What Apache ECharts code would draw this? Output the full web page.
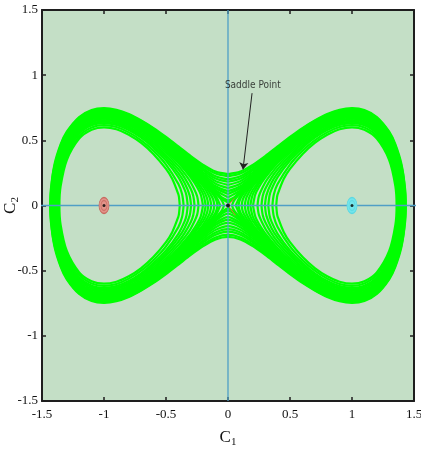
<!DOCTYPE html>
<html>
<head>
<meta charset="utf-8">
<script src="https://cdn.jsdelivr.net/npm/echarts@6/dist/echarts.min.js"></script>
<style>html,body{margin:0;padding:0;background:#fff;}#c{width:421px;height:452px;}</style>
</head>
<body>
<div id="c"></div>
<script>
// Axis ticks
const xTicks = [-1.5, -1, -0.5, 0, 0.5, 1, 1.5];
const yTicks = [-1.5, -1, -0.5, 0, 0.5, 1, 1.5];

// Orbits enclosing both wells (first-quadrant points)
const peanutA = [[0,.241],[.1,.26],[.2,.312],[.3,.379],[.4,.453],[.5,.526],[.6,.594],[.7,.652],[.8,.702],[.9,.735],[1,.747],[1.1,.733],[1.2,.679],[1.3,.566],[1.35,.468],[1.4,.312],[1.43,.11],[1.434,0]];
const peanutB = [[0,.224],[.1,.245],[.2,.299],[.3,.369],[.4,.444],[.5,.518],[.6,.588],[.7,.648],[.8,.697],[.9,.729],[1,.742],[1.1,.727],[1.2,.673],[1.3,.559],[1.35,.46],[1.4,.299],[1.42,.183],[1.4314,0]];
const peanutC = [[0,.2],[.1,.224],[.2,.282],[.3,.355],[.4,.433],[.5,.508],[.6,.579],[.7,.64],[.8,.689],[.9,.722],[1,.735],[1.1,.72],[1.2,.665],[1.3,.55],[1.35,.449],[1.4,.282],[1.42,.153],[1.428,0]];
const peanutD = [[0,.182],[.1,.207],[.2,.269],[.3,.345],[.4,.424],[.5,.502],[.6,.573],[.7,.635],[.8,.684],[.9,.718],[1,.73],[1.1,.715],[1.2,.66],[1.3,.543],[1.35,.441],[1.4,.269],[1.42,.128],[1.4256,0]];
const peanutE = [[0,.158],[.1,.187],[.2,.253],[.3,.332],[.4,.414],[.5,.494],[.6,.566],[.7,.628],[.8,.679],[.9,.712],[1,.725],[1.1,.709],[1.2,.654],[1.3,.536],[1.35,.432],[1.4,.253],[1.415,.151],[1.423,0]];
const peanutF = [[0,.134],[.1,.167],[.2,.239],[.3,.322],[.4,.406],[.5,.487],[.6,.56],[.7,.623],[.8,.673],[.9,.707],[1,.72],[1.1,.704],[1.2,.649],[1.3,.529],[1.35,.424],[1.4,.239],[1.41,.173],[1.4205,0]];
const peanutG = [[0,.11],[.1,.148],[.2,.225],[.3,.31],[.4,.399],[.5,.481],[.6,.554],[.7,.618],[.8,.669],[.9,.703],[1,.715],[1.1,.7],[1.2,.644],[1.3,.524],[1.35,.417],[1.4,.226],[1.418,0]];
const peanutH = [[0,.089],[.1,.134],[.2,.217],[.3,.307],[.4,.394],[.5,.476],[.6,.551],[.7,.615],[.8,.666],[.9,.7],[1,.713],[1.1,.697],[1.2,.641],[1.3,.52],[1.35,.412],[1.4,.217],[1.41,.141],[1.417,0]];
const peanutI = [[0,.063],[.1,.118],[.2,.208],[.3,.3],[.4,.389],[.5,.472],[.6,.547],[.7,.611],[.8,.663],[.9,.697],[1,.71],[1.1,.694],[1.2,.638],[1.3,.516],[1.35,.407],[1.4,.208],[1.4156,0]];
const peanutJ = [[0,.039],[.05,.063],[.1,.107],[.2,.202],[.3,.296],[.4,.386],[.5,.469],[.6,.545],[.7,.609],[.8,.661],[.9,.695],[1,.708],[1.1,.692],[1.2,.636],[1.3,.513],[1.35,.404],[1.4,.202],[1.41,.115],[1.4148,0]];
const peanutK = [[0,.022],[.05,.052],[.1,.1],[.2,.198],[.3,.293],[.4,.384],[.5,.468],[.6,.543],[.7,.608],[.8,.66],[.9,.694],[1,.707],[1.1,.692],[1.2,.635],[1.3,.512],[1.35,.402],[1.4,.199],[1.4144,0]];

// Orbits around a single well (upper half of the right well)
const lobeA = [[.032,0],[.05,.039],[.1,.095],[.15,.146],[.2,.195],[.3,.291],[.4,.382],[.5,.467],[.6,.542],[.7,.607],[.8,.659],[.9,.694],[1,.706],[1.1,.691],[1.2,.634],[1.3,.511],[1.35,.401],[1.4,.195],[1.41,.104],[1.4139,0]];
const lobeB = [[.063,0],[.1,.077],[.15,.135],[.2,.188],[.3,.286],[.4,.378],[.5,.463],[.6,.54],[.7,.605],[.8,.657],[.9,.691],[1,.704],[1.1,.688],[1.2,.632],[1.3,.508],[1.35,.397],[1.4,.188],[1.4128,0]];
const lobeC = [[.084,0],[.1,.054],[.15,.123],[.2,.179],[.3,.281],[.4,.374],[.5,.46],[.6,.537],[.7,.602],[.8,.654],[.9,.689],[1,.702],[1.1,.686],[1.2,.629],[1.3,.505],[1.35,.393],[1.4,.179],[1.41,.07],[1.4117,0]];
const lobeD = [[.11,0],[.12,.048],[.15,.101],[.2,.165],[.3,.272],[.4,.368],[.5,.455],[.6,.532],[.7,.598],[.8,.651],[.9,.686],[1,.699],[1.1,.683],[1.2,.625],[1.3,.5],[1.35,.387],[1.4,.165],[1.41,0]];
const lobeE = [[.135,0],[.15,.065],[.2,.146],[.3,.261],[.4,.359],[.5,.448],[.6,.526],[.7,.593],[.8,.646],[.9,.681],[1,.694],[1.1,.678],[1.2,.621],[1.3,.494],[1.35,.379],[1.4,.146],[1.4078,0]];
const lobeF = [[.159,0],[.17,.059],[.2,.119],[.3,.247],[.4,.35],[.5,.44],[.6,.52],[.7,.587],[.8,.64],[.9,.676],[1,.689],[1.1,.673],[1.2,.615],[1.3,.487],[1.35,.37],[1.4,.119],[1.4052,0]];
const lobeG = [[.18,0],[.2,.085],[.25,.169],[.3,.232],[.4,.339],[.5,.432],[.6,.513],[.7,.581],[.8,.635],[.9,.671],[1,.684],[1.1,.668],[1.2,.609],[1.3,.48],[1.35,.36],[1.38,.243],[1.4,.085],[1.4027,0]];
const lobeH = [[.202,0],[.22,.085],[.25,.143],[.3,.214],[.4,.327],[.5,.423],[.6,.505],[.7,.574],[.8,.629],[.9,.665],[1,.678],[1.1,.662],[1.2,.603],[1.3,.471],[1.35,.349],[1.38,.226],[1.39,.16],[1.3997,0]];
const lobeI = [[.238,0],[.25,.074],[.3,.176],[.35,.245],[.4,.304],[.5,.405],[.6,.49],[.7,.561],[.8,.617],[.9,.653],[1,.667],[1.1,.65],[1.2,.59],[1.3,.455],[1.35,.327],[1.38,.19],[1.394,0]];
const lobeJ = [[.27,0],[.28,.073],[.3,.126],[.35,.212],[.4,.278],[.5,.386],[.6,.475],[.7,.548],[.8,.604],[.9,.642],[1,.656],[1.1,.639],[1.2,.577],[1.3,.438],[1.35,.303],[1.38,.145],[1.3883,0]];
const lobeK = [[.298,0],[.31,.08],[.35,.173],[.4,.249],[.5,.366],[.6,.458],[.7,.534],[.8,.592],[.9,.63],[1,.644],[1.1,.627],[1.2,.564],[1.3,.421],[1.35,.277],[1.37,.175],[1.3824,0]];
const lobeL = [[.325,0],[.335,.077],[.35,.122],[.4,.217],[.5,.345],[.6,.442],[.7,.52],[.8,.579],[.9,.618],[1,.632],[1.1,.615],[1.2,.551],[1.3,.402],[1.35,.248],[1.37,.124],[1.3764,0]];
const lobeM = [[.358,0],[.37,.087],[.4,.165],[.5,.314],[.6,.419],[.7,.5],[.8,.561],[.9,.602],[1,.616],[1.1,.598],[1.2,.532],[1.3,.377],[1.35,.204],[1.36,.139],[1.3681,0]];
const lobeN = [[.389,0],[.395,.062],[.4,.085],[.45,.205],[.5,.281],[.6,.394],[.7,.48],[.8,.543],[.9,.585],[1,.6],[1.1,.581],[1.2,.513],[1.3,.349],[1.35,.147],[1.3596,0]];

// Equilibria, guide lines and annotation anchor
const saddle = [[0, 0]];
const leftCentre = [[-1, 0]];
const rightCentre = [[1, 0]];
const annotText = [[0.2, 0.92]];
const arrowFrom = [0.194, 0.862];
const arrowTo = [0.121, 0.277];
const hAxisLine = [[-1.52, 0], [1.52, 0]];
const vAxisLine = [[0, -1.5], [0, 1.5]];
const manifoldA = [[0, 0], [0.06, -0.075]];
const manifoldB = [[0, 0], [0.05, 0.055]];

function peanutLoop(q) {
  const out = q.slice();
  for (let i = q.length - 2; i >= 0; i--) out.push([q[i][0], -q[i][1]]);
  for (let i = 1; i < q.length; i++) out.push([-q[i][0], -q[i][1]]);
  for (let i = q.length - 2; i >= 0; i--) out.push([-q[i][0], q[i][1]]);
  return out;
}
function lobeLoop(q, s) {
  const out = q.map(p => [s * p[0], p[1]]);
  for (let i = q.length - 2; i >= 0; i--) out.push([s * q[i][0], -q[i][1]]);
  return out;
}

const GREEN = '#00ff00';
const loops = [];
[peanutA, peanutB, peanutC, peanutD, peanutE, peanutF, peanutG, peanutH, peanutI, peanutJ, peanutK].forEach(q => loops.push(peanutLoop(q)));
[lobeA, lobeB, lobeC, lobeD, lobeE, lobeF, lobeG, lobeH, lobeI, lobeJ, lobeK, lobeL, lobeM, lobeN].forEach(q => { loops.push(lobeLoop(q, 1)); loops.push(lobeLoop(q, -1)); });

const series = loops.map(d => ({
  type: 'line', data: d, showSymbol: false, smooth: 0.3, silent: true, z: 2,
  lineStyle: { color: GREEN, width: 2.2 }
}));

// small manifold strokes at the saddle
[manifoldA, manifoldB].forEach(d => series.push({ type: 'line', data: d, showSymbol: false, silent: true, z: 3,
  lineStyle: { color: '#d9773a', width: 1 } }));

// blue axes through origin
[hAxisLine, vAxisLine].forEach(d => series.push({ type: 'line', data: d, showSymbol: false, silent: true, z: 10,
  clip: false, lineStyle: { color: '#4f9fc6', width: 1.3 } }));

function centre(data, fill, ring) {
  series.push({ type: 'scatter', data: data, symbol: 'circle', symbolSize: [10, 16], z: 11, silent: true,
    itemStyle: { color: fill, borderColor: ring, borderWidth: 1, opacity: 1 } });
  series.push({ type: 'scatter', data: data, symbol: 'circle', symbolSize: [6, 10], z: 12, silent: true,
    itemStyle: { color: 'transparent', borderColor: ring, borderWidth: 1 } });
  series.push({ type: 'scatter', data: data, symbol: 'circle', symbolSize: 3, z: 13, silent: true,
    itemStyle: { color: '#000' } });
}
centre(leftCentre, '#e3948a', '#c86a60');
centre(rightCentre, '#74e6ec', '#5cd8e2');
series.push({ type: 'scatter', data: saddle, symbol: 'circle', symbolSize: 4, z: 13, silent: true, itemStyle: { color: '#000' } });

// annotation
series.push({
  type: 'scatter', data: annotText, symbolSize: 0, z: 14, silent: true,
  label: { show: true, position: 'inside', formatter: 'Saddle Point',
    fontFamily: 'Liberation Sans Narrow, DejaVu Sans Condensed, sans-serif', fontSize: 10, color: '#111' },
  markLine: {
    silent: true, animation: false, symbol: ['none', 'arrow'], symbolSize: 7,
    label: { show: false },
    lineStyle: { color: '#222', width: 1, type: 'solid' },
    data: [[{ coord: arrowFrom }, { coord: arrowTo }]]
  }
});

const serif = 'Liberation Serif, Times New Roman, serif';
function frame() { return { show: true, onZero: false, lineStyle: { color: '#1e1e1e', width: 2 } }; }
function tick() { return { show: true, inside: true, length: 4, lineStyle: { color: '#1e1e1e', width: 1.5 } }; }
function nameRich() {
  return { c: { fontFamily: serif, fontSize: 17, color: '#111', lineHeight: 18 },
           s: { fontFamily: serif, fontSize: 11, color: '#111', lineHeight: 18, padding: [9, 0, 0, 0] } };
}

const option = {
  animation: false,
  backgroundColor: '#ffffff',
  grid: { left: 42, top: 10, right: 7, bottom: 51, show: true, backgroundColor: '#c4dfc6', borderWidth: 0,
    containLabel: false, outerBoundsMode: 'none' },
  xAxis: [
    { type: 'value', min: xTicks[0], max: xTicks[xTicks.length - 1], interval: 0.5, position: 'bottom',
      axisLine: frame(), axisTick: tick(), splitLine: { show: false },
      axisLabel: { fontFamily: serif, fontSize: 13, color: '#111', margin: 7 },
      name: '{c|C}{s|1}', nameLocation: 'middle', nameGap: 28, nameMoveOverlap: false,
      nameTextStyle: { rich: nameRich() } },
    { type: 'value', min: xTicks[0], max: xTicks[xTicks.length - 1], interval: 0.5, position: 'top',
      axisLine: frame(), axisTick: tick(), splitLine: { show: false }, axisLabel: { show: false } }
  ],
  yAxis: [
    { type: 'value', min: yTicks[0], max: yTicks[yTicks.length - 1], interval: 0.5, position: 'left',
      axisLine: frame(), axisTick: tick(), splitLine: { show: false },
      axisLabel: { fontFamily: serif, fontSize: 13, color: '#111', margin: 4 },
      name: '{c|C}{s|2}', nameLocation: 'middle', nameGap: 22, nameRotate: 90, nameMoveOverlap: false,
      nameTextStyle: { rich: nameRich() } },
    { type: 'value', min: yTicks[0], max: yTicks[yTicks.length - 1], interval: 0.5, position: 'right',
      axisLine: frame(), axisTick: tick(), splitLine: { show: false }, axisLabel: { show: false } }
  ],
  series: series
};
echarts.init(document.getElementById('c'), null, { renderer: 'canvas' }).setOption(option);
</script>
</body>
</html>
